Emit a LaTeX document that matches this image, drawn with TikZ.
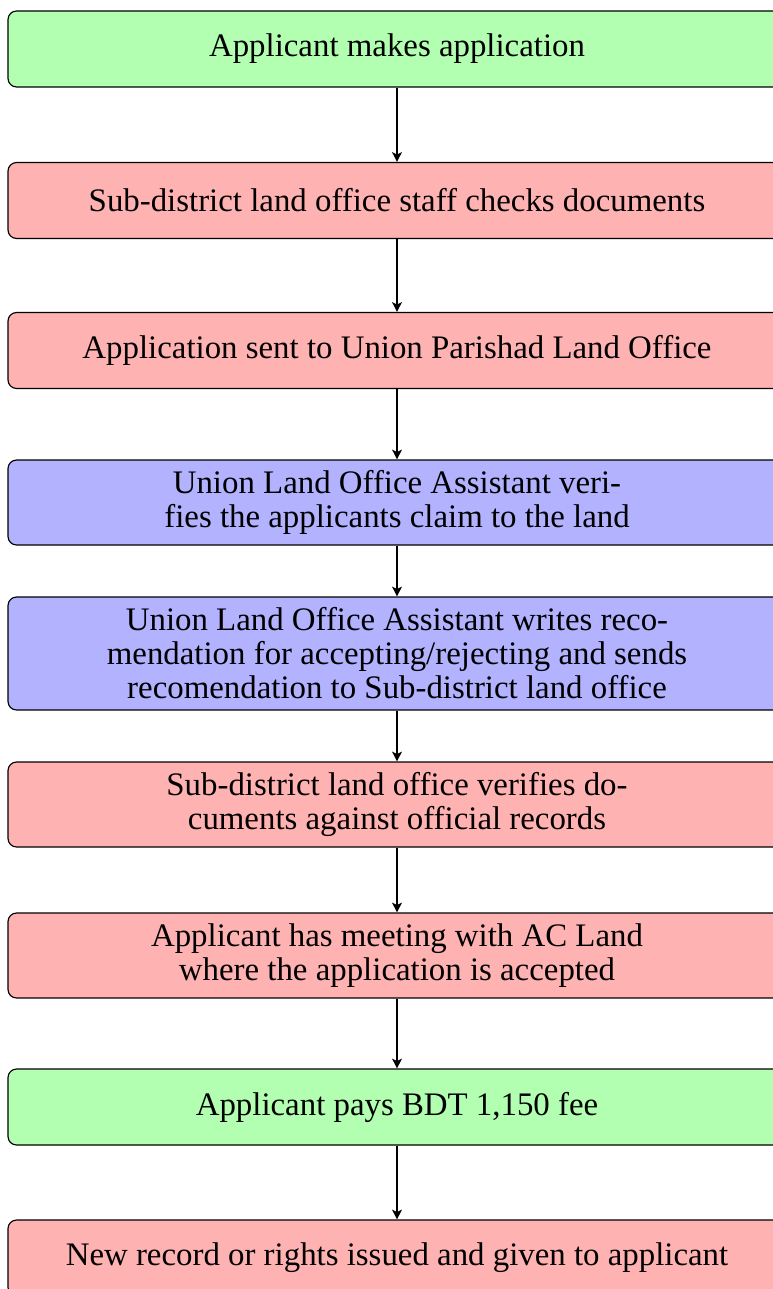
\documentclass[tikz,border=0pt]{standalone}
\usepackage{fontspec}
\setmainfont{Liberation Serif}
\usetikzlibrary{arrows.meta}
\tikzset{
  flowbox/.style={draw=black, rounded corners=3pt, minimum width=272.3pt, align=center, inner sep=0pt, font=\fontsize{11.5}{11.9}\selectfont},
  greenbox/.style={flowbox, fill=green!30},
  redbox/.style={flowbox, fill=red!30},
  bluebox/.style={flowbox, fill=blue!30},
  oneline/.style={minimum height=26.6pt},
  twoline/.style={minimum height=29.75pt},
  threeline/.style={minimum height=39.55pt},
  flowarrow/.style={draw=black, line width=0.5pt, -{Stealth[length=3.4pt, width=3.4pt, inset=0.8pt]}}
}
\begin{document}
\begin{tikzpicture}[x=0.35pt, y=-0.35pt]
\useasboundingbox (0,0) rectangle (773,1289);
\node[greenbox, oneline] (b1) at (397,49) {Applicant makes application};
\node[redbox, oneline] (b2) at (397,200.5) {Sub-district land office staff checks documents};
\node[redbox, oneline] (b3) at (397,350.5) {Application sent to Union Parishad Land Office};
\node[bluebox, twoline] (b4) at (397,502.5) {Union Land Office Assistant veri-\\fies the applicants claim to the land};
\node[bluebox, threeline] (b5) at (397,653.5) {Union Land Office Assistant writes reco-\\mendation for accepting/rejecting and sends\\recomendation to Sub-district land office};
\node[redbox, twoline] (b6) at (397,804.5) {Sub-district land office verifies do-\\cuments against official records};
\node[redbox, twoline] (b7) at (397,955.5) {Applicant has meeting with AC Land\\where the application is accepted};
\node[greenbox, oneline] (b8) at (397,1107) {Applicant pays BDT 1,150 fee};
\node[redbox, oneline] (b9) at (397,1258) {New record or rights issued and given to applicant};
\draw[flowarrow] (b1) -- (b2);
\draw[flowarrow] (b2) -- (b3);
\draw[flowarrow] (b3) -- (b4);
\draw[flowarrow] (b4) -- (b5);
\draw[flowarrow] (b5) -- (b6);
\draw[flowarrow] (b6) -- (b7);
\draw[flowarrow] (b7) -- (b8);
\draw[flowarrow] (b8) -- (b9);
\end{tikzpicture}
\end{document}
